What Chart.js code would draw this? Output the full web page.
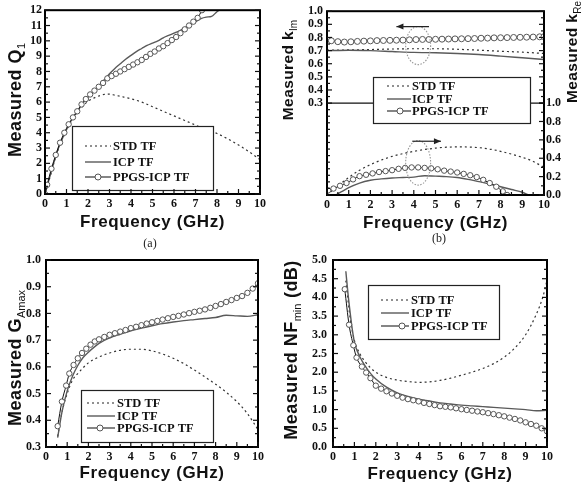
<!DOCTYPE html>
<html><head><meta charset="utf-8">
<script src="https://cdn.jsdelivr.net/npm/chart.js@4.4.1/dist/chart.umd.min.js"></script>
<style>
html,body{margin:0;padding:0;background:#fff;}
#wrap{position:relative;width:588px;height:486px;overflow:hidden;background:#fff;}
canvas{position:absolute;}
.cap{position:absolute;font-family:"Liberation Serif",serif;font-size:12px;color:#222;transform:translate(-50%,-50%);white-space:nowrap;}
</style></head><body>
<div id="wrap">
<canvas id="ca" width="294" height="240" style="left:0;top:0;width:294px;height:240px"></canvas>
<canvas id="cb" width="322" height="240" style="left:266px;top:0;width:322px;height:240px"></canvas>
<canvas id="cc" width="290" height="246" style="left:0;top:240px;width:290px;height:246px"></canvas>
<canvas id="cd" width="322" height="246" style="left:266px;top:240px;width:322px;height:246px"></canvas>
<div class="cap" style="left:150px;top:243px">(a)</div>
<div class="cap" style="left:439px;top:238px">(b)</div>
</div>
<script>
// ---------------- DATA ----------------
const seriesLabels = ['STD TF', 'ICP TF', 'PPGS-ICP TF'];

// (a) Measured Q1 vs Frequency (GHz)
const aStdX  = [0,0.2,0.4,0.6,0.8,1.0,1.2,1.4,1.6,1.8,2.0,2.25,2.5,2.75,3.0,3.25,3.5,3.75,4.0,4.5,5.0,5.5,6.0,6.5,7.0,7.5,8.0,8.5,9.0,9.5,10.0];
const aStdY  = [0,0.95,1.95,2.85,3.55,4.15,4.7,5.15,5.5,5.8,6.05,6.25,6.4,6.5,6.52,6.45,6.38,6.3,6.22,6.0,5.7,5.4,5.1,4.8,4.5,4.2,3.95,3.6,3.2,2.75,2.25];
const aIcpX  = [0,0.2,0.4,0.6,0.8,1.0,1.2,1.4,1.6,1.8,2.0,2.25,2.5,2.75,3.0,3.25,3.5,3.75,4.0,4.25,4.5,4.75,5.0,5.25,5.5,5.75,6.0,6.25,6.5,6.75,7.0,7.25,7.5,7.75,8.0,8.1];
const aIcpY  = [0,1.0,2.0,2.9,3.6,4.2,4.75,5.2,5.6,6.0,6.3,6.7,7.05,7.45,7.85,8.2,8.5,8.8,9.05,9.3,9.5,9.7,9.85,10.0,10.2,10.35,10.5,10.65,10.85,11.05,11.25,11.45,11.55,11.6,11.9,12.0];
const aPpgsX = [0,0.1,0.3,0.5,0.7,0.9,1.1,1.3,1.5,1.7,1.9,2.1,2.3,2.5,2.7,2.9,3.1,3.3,3.5,3.7,3.9,4.1,4.3,4.5,4.7,4.9,5.1,5.3,5.5,5.7,5.9,6.1,6.3,6.5,6.7,6.9,7.1,7.3];
const aPpgsY = [0,0.6,1.65,2.55,3.35,4.0,4.55,5.0,5.4,5.85,6.2,6.5,6.75,7.0,7.25,7.55,7.7,7.85,8.0,8.15,8.3,8.45,8.6,8.75,8.95,9.15,9.3,9.5,9.65,9.85,10.05,10.25,10.5,10.75,11.0,11.25,11.5,12.0];

// (b) Measured k_Im (left axis, upper) and k_Re (right axis, lower)
const bImStdX  = [0,1,2,3,4,5,6,7,8,9,10];
const bImStdY  = [0.703,0.705,0.708,0.712,0.714,0.714,0.71,0.703,0.695,0.688,0.678];
const bImIcpX  = [0,1,2,3,4,5,6,7,8,9,10];
const bImIcpY  = [0.70,0.703,0.70,0.693,0.686,0.683,0.678,0.670,0.658,0.645,0.632];
const bImPpgsX = [0.2,0.5,0.8,1.1,1.4,1.7,2.0,2.3,2.6,2.9,3.2,3.5,3.8,4.1,4.4,4.7,5.0,5.3,5.6,5.9,6.2,6.5,6.8,7.1,7.4,7.7,8.0,8.3,8.6,8.9,9.2,9.5,9.8,10.0];
const bImPpgsY = [0.775,0.768,0.765,0.767,0.770,0.772,0.774,0.776,0.777,0.778,0.779,0.780,0.782,0.784,0.785,0.785,0.786,0.787,0.788,0.789,0.790,0.791,0.792,0.794,0.795,0.797,0.798,0.799,0.800,0.801,0.802,0.803,0.805,0.806];
const bReStdX  = [0,0.5,1,1.5,2,2.5,3,3.5,4,4.5,5,5.5,6,6.5,7,7.5,8,8.5,9,9.5,10];
const bReStdY  = [0.0,0.1,0.19,0.27,0.33,0.38,0.42,0.45,0.475,0.495,0.51,0.52,0.523,0.522,0.515,0.5,0.475,0.445,0.41,0.365,0.3];
const bReIcpX  = [0.4,0.7,1,1.5,2,2.5,3,3.5,4,4.5,5,5.5,6,6.5,7,7.5,8,8.5,9,9.3];
const bReIcpY  = [0.0,0.04,0.08,0.13,0.16,0.175,0.185,0.19,0.195,0.21,0.205,0.2,0.19,0.17,0.145,0.12,0.09,0.06,0.03,0.0];
const bRePpgsX = [0.05,0.3,0.6,0.9,1.2,1.5,1.8,2.1,2.4,2.7,3.0,3.3,3.6,3.9,4.2,4.5,4.8,5.1,5.4,5.7,6.0,6.3,6.6,6.9,7.2,7.5,7.8,8.1,8.3];
const bRePpgsY = [0.05,0.07,0.1,0.13,0.17,0.205,0.22,0.235,0.25,0.26,0.27,0.285,0.295,0.3,0.3,0.295,0.29,0.28,0.265,0.255,0.245,0.23,0.215,0.195,0.165,0.13,0.09,0.04,0.0];

// (c) Measured G_Amax
const cStdX  = [0.55,0.75,1.0,1.25,1.5,2.0,2.5,3.0,3.5,4.0,4.5,5.0,5.5,6.0,6.5,7.0,7.5,8.0,8.5,9.0,9.5,9.8,10.0];
const cStdY  = [0.34,0.43,0.5,0.55,0.575,0.615,0.637,0.652,0.662,0.666,0.666,0.66,0.648,0.632,0.612,0.588,0.562,0.535,0.505,0.47,0.425,0.39,0.365];
const cIcpX  = [0.55,0.75,1.0,1.25,1.5,1.75,2.0,2.5,3.0,3.5,4.0,4.5,5.0,5.5,6.0,6.5,7.0,7.5,8.0,8.5,9.0,9.5,10.0];
const cIcpY  = [0.335,0.43,0.51,0.565,0.605,0.635,0.655,0.688,0.708,0.722,0.735,0.745,0.754,0.762,0.768,0.773,0.777,0.781,0.785,0.793,0.791,0.789,0.795];
const cPpgsX = [0.55,0.75,0.95,1.1,1.3,1.5,1.7,1.9,2.1,2.3,2.5,2.75,3.0,3.25,3.5,3.75,4.0,4.25,4.5,4.75,5.0,5.25,5.5,5.75,6.0,6.25,6.5,6.75,7.0,7.25,7.5,7.75,8.0,8.25,8.5,8.75,9.0,9.25,9.5,9.75,10.0];
const cPpgsY = [0.378,0.47,0.53,0.575,0.607,0.632,0.652,0.668,0.683,0.695,0.703,0.712,0.72,0.726,0.732,0.738,0.745,0.75,0.756,0.762,0.767,0.772,0.777,0.782,0.787,0.791,0.796,0.801,0.806,0.81,0.815,0.821,0.828,0.835,0.843,0.85,0.858,0.865,0.877,0.893,0.913];

// (d) Measured NF_min (dB)
const dStdX  = [0.6,0.8,1.0,1.25,1.5,1.75,2.0,2.5,3.0,3.5,4.0,4.5,5.0,5.5,6.0,6.5,7.0,7.5,8.0,8.5,9.0,9.5,9.8,10.0];
const dStdY  = [4.45,3.45,2.85,2.5,2.28,2.12,2.0,1.86,1.79,1.75,1.73,1.74,1.78,1.84,1.92,2.0,2.1,2.23,2.4,2.65,3.0,3.55,4.0,4.45];
const dIcpX  = [0.6,0.7,0.8,0.9,1.0,1.25,1.5,1.75,2.0,2.5,3.0,3.5,4.0,4.5,5.0,5.5,6.0,6.5,7.0,7.5,8.0,8.5,9.0,9.5,10.0];
const dIcpY  = [4.7,4.1,3.6,3.15,2.8,2.42,2.17,1.97,1.82,1.6,1.45,1.35,1.28,1.23,1.18,1.15,1.12,1.1,1.08,1.06,1.04,1.02,1.0,0.97,0.98];
const dPpgsX = [0.55,0.75,0.95,1.1,1.35,1.55,1.75,2.0,2.25,2.5,2.75,3.0,3.25,3.5,3.75,4.0,4.25,4.5,4.75,5.0,5.25,5.5,5.75,6.0,6.25,6.5,6.75,7.0,7.25,7.5,7.75,8.0,8.25,8.5,8.75,9.0,9.25,9.5,9.75,10.0];
const dPpgsY = [4.22,3.27,2.72,2.39,2.15,1.99,1.84,1.64,1.56,1.49,1.43,1.37,1.32,1.28,1.25,1.22,1.18,1.15,1.12,1.09,1.075,1.06,1.035,1.01,0.99,0.97,0.95,0.93,0.905,0.88,0.85,0.82,0.785,0.75,0.71,0.66,0.615,0.57,0.5,0.42];

// ---------------- HELPERS ----------------
const TICK_FONT = {family:'Liberation Serif', weight:'bold', size:12};
const TITLE_FONT = 'bold 18px "Liberation Sans", Arial, sans-serif';
const TITLE_FONT_B = 'bold 15.5px "Liberation Sans", Arial, sans-serif';
const SUB_FONT = '11px "Liberation Sans", Arial, sans-serif';
const SUB_FONT_B = '10px "Liberation Sans", Arial, sans-serif';
const XTITLE_FONT = 'bold 17px "Liberation Sans", Arial, sans-serif';
const LEG_FONT = 'bold 12.5px "Liberation Serif", "Times New Roman", serif';

function pts(xs, ys){ return xs.map((x,i)=>({x:x, y:ys[i]})); }
function ds(kind, xs, ys, axis, r){
  const d = {label: seriesLabels[kind==='std'?0:kind==='icp'?1:2], data: pts(xs,ys), yAxisID: axis||'y',
    fill:false, cubicInterpolationMode:'monotone', tension:0.3};
  if(kind==='std') Object.assign(d,{borderColor:'#333', borderWidth:1.2, borderDash:[2,3], pointRadius:0});
  if(kind==='icp') Object.assign(d,{borderColor:'#5a5a5a', borderWidth:1.4, pointRadius:0});
  if(kind==='ppgs') Object.assign(d,{borderColor:'#111', borderWidth:1, pointRadius:r||2.7, pointBorderColor:'#555',
    pointBackgroundColor:'#fff', pointBorderWidth:1});
  return d;
}
function near(v, step){ const q=v/step; return Math.abs(q-Math.round(q))<1e-6; }
function intLabel(v){ return near(v,1) ? String(Math.round(v)) : ''; }
function decLabel(step){ return v => near(v,step) ? (Math.round(v*10)/10).toFixed(1) : ''; }

function xScale(h){
  return {type:'linear', min:0, max:10, grid:{display:false, drawTicks:false}, border:{display:false},
    ticks:{stepSize:0.5, maxTicksLimit:1000, autoSkip:false, maxRotation:0, padding:3, font:TICK_FONT, color:'#111', callback:intLabel},
    afterFit: s => { s.height = h; }};
}
function yScale(w, min, max, step, cb, pos, pad){
  return {type:'linear', position:pos||'left', min:min, max:max, grid:{display:false, drawTicks:false}, border:{display:false},
    ticks:{stepSize:step, maxTicksLimit:1000, autoSkip:false, padding:pad==null?4:pad, font:TICK_FONT, color:'#111', callback:cb},
    afterFit: s => { s.width = w; }};
}

function drawTitle(ctx, cx, cy, parts, rotate){
  ctx.save();
  ctx.translate(cx, cy);
  if(rotate) ctx.rotate(-Math.PI/2);
  let total = 0;
  parts.forEach(p => { ctx.font = p.f; ctx.letterSpacing = p.ls||'0px'; p.w = ctx.measureText(p.t).width; total += p.w; });
  let x = -total/2;
  ctx.fillStyle = '#111'; ctx.textAlign='left'; ctx.textBaseline='alphabetic';
  parts.forEach(p => { ctx.font = p.f; ctx.letterSpacing = p.ls||'0px'; ctx.fillText(p.t, x, p.dy); x += p.w; });
  ctx.restore();
}
function mainPart(t){ return {t:t, f:TITLE_FONT, dy:6.5, ls:'0.5px'}; }
function subPart(t){ return {t:t, f:SUB_FONT, dy:11}; }
function mainPartB(t){ return {t:t, f:TITLE_FONT_B, dy:5.5, ls:'0.4px'}; }
function subPartB(t){ return {t:t, f:SUB_FONT_B, dy:9.5}; }

function drawLegend(ctx, L){
  ctx.save();
  ctx.fillStyle='#fff'; ctx.fillRect(L.x0, L.y0, L.x1-L.x0, L.y1-L.y0);
  ctx.strokeStyle='#222'; ctx.lineWidth=1.2; ctx.strokeRect(L.x0+0.5, L.y0+0.5, L.x1-L.x0, L.y1-L.y0);
  const kinds=['std','icp','ppgs'];
  kinds.forEach((k,i)=>{
    const y = L.rows[i];
    ctx.beginPath(); ctx.setLineDash(k==='std'?[2,3]:[]);
    ctx.strokeStyle = k==='icp' ? '#5a5a5a' : '#222'; ctx.lineWidth = k==='icp'?1.4:1.1;
    ctx.moveTo(L.s0, y); ctx.lineTo(L.s1, y); ctx.stroke(); ctx.setLineDash([]);
    if(k==='ppgs'){ ctx.beginPath(); ctx.arc(L.cx, y, 3, 0, Math.PI*2); ctx.fillStyle='#fff'; ctx.fill();
      ctx.strokeStyle='#555'; ctx.lineWidth=1; ctx.stroke(); }
    ctx.fillStyle='#111'; ctx.font=LEG_FONT; ctx.textBaseline='middle'; ctx.textAlign='left';
    ctx.fillText(seriesLabels[i], L.tx, y+0.5);
  });
  ctx.restore();
}

function drawTicks(ctx, chart, scaleId, side, filter){
  const s = chart.scales[scaleId]; const a = chart.chartArea;
  ctx.save(); ctx.strokeStyle='#111'; ctx.lineWidth=1.2;
  s.ticks.forEach(t => {
    if(filter && !filter(t.value)) return;
    const p = s.getPixelForValue(t.value);
    const len = t.label ? 5 : 3;
    ctx.beginPath();
    if(side==='bottom'){ if(p < a.left-0.5 || p > a.right+0.5) return; ctx.moveTo(p, a.bottom); ctx.lineTo(p, a.bottom-len); }
    if(side==='left'){ if(p < a.top-0.5 || p > a.bottom+0.5) return; ctx.moveTo(a.left, p); ctx.lineTo(a.left+len, p); }
    if(side==='right'){ if(p < a.top-0.5 || p > a.bottom+0.5) return; ctx.moveTo(a.right, p); ctx.lineTo(a.right-len, p); }
    ctx.stroke();
  });
  ctx.restore();
}

// per-canvas decoration settings (kept outside Chart.js options so functions are not resolved as scriptables)
const PANELS = {};

const panelPlugin = {
  id:'panelDeco',
  beforeDatasetsDraw(chart){
    const P = PANELS[chart.canvas.id]; if(!P || !P.breakAt) return;
    const ctx = chart.ctx, a = chart.chartArea;
    const y = chart.scales.yL.getPixelForValue(P.breakAt);
    ctx.save(); ctx.strokeStyle='#111'; ctx.lineWidth=1.2;
    ctx.beginPath(); ctx.moveTo(a.left, y); ctx.lineTo(a.right, y); ctx.stroke(); ctx.restore();
  },
  afterDatasetsDraw(chart){
    const P = PANELS[chart.canvas.id]; if(!P) return;
    const ctx = chart.ctx;
    if(P.annot) P.annot(chart, ctx);
    if(P.legend) drawLegend(ctx, P.legend);
  },
  afterDraw(chart){
    const P = PANELS[chart.canvas.id]; if(!P) return;
    const ctx = chart.ctx, a = chart.chartArea;
    ctx.save(); ctx.strokeStyle='#000'; ctx.lineWidth=2;
    ctx.strokeRect(a.left, a.top, a.right-a.left, a.bottom-a.top); ctx.restore();
    P.ticks.forEach(t => drawTicks(ctx, chart, t[0], t[1], t[2]));
    drawTitle(ctx, (a.left+a.right)/2, P.xTitleY, [{t:'Frequency (GHz)', f:XTITLE_FONT, dy:6, ls:'0.6px'}], false);
    P.yTitles.forEach(T => drawTitle(ctx, T.x, T.y, T.parts, true));
  }
};
Chart.register(panelPlugin);

function baseOptions(padding, scales){
  return {responsive:false, animation:false, devicePixelRatio:1, events:[],
    layout:{padding:padding}, scales:scales,
    plugins:{legend:{display:false}, tooltip:{enabled:false}}};
}

// ---------------- PANEL (a) ----------------
PANELS.ca = {xTitleY:221, ticks:[['x','bottom'],['y','left'],['y','right']],
  yTitles:[{x:14, y:100, parts:[mainPart('Measured Q'), subPart('1')]}],
  legend:{x0:72, y0:126, x1:213, y1:190, rows:[146,162,177], s0:85, s1:111, cx:98, tx:113}};
new Chart(document.getElementById('ca'), {
  type:'line',
  data:{datasets:[ds('ppgs',aPpgsX,aPpgsY), ds('icp',aIcpX,aIcpY), ds('std',aStdX,aStdY)]},
  options: baseOptions({left:0, top:7, right:34, bottom:0},
    {x:xScale(46), y:yScale(45, 0, 12, 0.5, intLabel, 'left', 3)})
});

// ---------------- PANEL (b) ----------------
const bTop = 7, bBreak = 101, bBottom = 195;          // layout rows of the split axis
const yLmin = 1.0 - (bBottom-bTop)*(1.0-0.3)/(bBreak-bTop);
const yRmax = (bBottom-bTop)/(bBottom-bBreak);
function bLeftLabel(v){ const r=Math.round(v*100)/100; return (r>=0.299 && near(r,0.1)) ? r.toFixed(1) : ''; }
function bRightLabel(v){ const r=Math.round(v*100)/100; return (r<=1.0001 && near(r,0.2)) ? r.toFixed(1) : ''; }
function bAnnot(chart, ctx){
  const x = chart.scales.x, yL = chart.scales.yL, yR = chart.scales.yR;
  ctx.save();
  ctx.strokeStyle='#999'; ctx.lineWidth=1.1; ctx.setLineDash([1.5,1.5]);
  ctx.beginPath();
  ctx.ellipse(x.getPixelForValue(4.2), yL.getPixelForValue(0.738),
    Math.abs(x.getPixelForValue(4.775)-x.getPixelForValue(4.2)), Math.abs(yL.getPixelForValue(0.593)-yL.getPixelForValue(0.738)), 0, 0, Math.PI*2);
  ctx.stroke();
  ctx.beginPath();
  ctx.ellipse(x.getPixelForValue(4.2), yR.getPixelForValue(0.35),
    Math.abs(x.getPixelForValue(4.775)-x.getPixelForValue(4.2)), Math.abs(yR.getPixelForValue(0.107)-yR.getPixelForValue(0.35)), 0, 0, Math.PI*2);
  ctx.stroke();
  ctx.setLineDash([]);
  ctx.strokeStyle='#222'; ctx.fillStyle='#222'; ctx.lineWidth=1.2;
  function arrow(x0,x1,y){
    ctx.beginPath(); ctx.moveTo(x0,y); ctx.lineTo(x1,y); ctx.stroke();
    const d = x1>x0?1:-1;
    ctx.beginPath(); ctx.moveTo(x1,y); ctx.lineTo(x1-d*7,y-3); ctx.lineTo(x1-d*7,y+3); ctx.closePath(); ctx.fill();
  }
  arrow(x.getPixelForValue(4.7), x.getPixelForValue(3.2), yL.getPixelForValue(0.883));
  arrow(x.getPixelForValue(3.93), x.getPixelForValue(5.25), yR.getPixelForValue(0.585));
  ctx.restore();
}
PANELS.cb = {xTitleY:222, breakAt:0.3, annot:bAnnot,
  ticks:[['x','bottom'],['yL','left'],['yL','right', v=>v>=0.299],['yR','right', v=>v<=1.0001]],
  yTitles:[{x:21, y:70, parts:[mainPartB('Measured k'), subPartB('Im')]},
           {x:305, y:52, parts:[mainPartB('Measured k'), subPartB('Re')]}],
  legend:{x0:107, y0:77, x1:264, y1:123, rows:[86,99,111], s0:121, s1:145, cx:134, tx:146}};
new Chart(document.getElementById('cb'), {
  type:'line',
  data:{datasets:[
    ds('ppgs',bImPpgsX,bImPpgsY,'yL',3), ds('icp',bImIcpX,bImIcpY,'yL'), ds('std',bImStdX,bImStdY,'yL'),
    ds('ppgs',bRePpgsX,bRePpgsY,'yR'), ds('icp',bReIcpX,bReIcpY,'yR'), ds('std',bReStdX,bReStdY,'yR')]},
  options: baseOptions({left:0, top:bTop, right:0, bottom:0},
    {x:xScale(45),
     yL:yScale(61, yLmin, 1.0, 0.05, bLeftLabel, 'left', 4),
     yR:yScale(44, 0, yRmax, 0.1, bRightLabel, 'right', 2)})
});

// ---------------- PANEL (c) ----------------
PANELS.cc = {xTitleY:232, ticks:[['x','bottom'],['y','left'],['y','right']],
  yTitles:[{x:14, y:118, parts:[mainPart('Measured G'), subPart('Amax')]}],
  legend:{x0:81, y0:150, x1:213, y1:202, rows:[163,176,188], s0:87, s1:115, cx:100, tx:117}};
new Chart(document.getElementById('cc'), {
  type:'line',
  data:{datasets:[ds('ppgs',cPpgsX,cPpgsY), ds('icp',cIcpX,cIcpY), ds('std',cStdX,cStdY)]},
  options: baseOptions({left:0, top:20, right:32, bottom:0},
    {x:xScale(39), y:yScale(46, 0.3, 1.0, 0.05, decLabel(0.1), 'left', 5)})
});

// ---------------- PANEL (d) ----------------
PANELS.cd = {xTitleY:233, ticks:[['x','bottom'],['y','left'],['y','right']],
  yTitles:[{x:24, y:110, parts:[mainPart('Measured NF'), subPart('min'), mainPart(' (dB)')]}],
  legend:{x0:102, y0:45, x1:233, y1:99, rows:[60,73,86], s0:115, s1:143, cx:136, tx:145}};
new Chart(document.getElementById('cd'), {
  type:'line',
  data:{datasets:[ds('ppgs',dPpgsX,dPpgsY), ds('icp',dIcpX,dIcpY), ds('std',dStdX,dStdY)]},
  options: baseOptions({left:0, top:20, right:41, bottom:0},
    {x:xScale(39), y:yScale(67, 0, 5, 0.25, decLabel(0.5), 'left', 6)})
});
</script>
</body></html>
